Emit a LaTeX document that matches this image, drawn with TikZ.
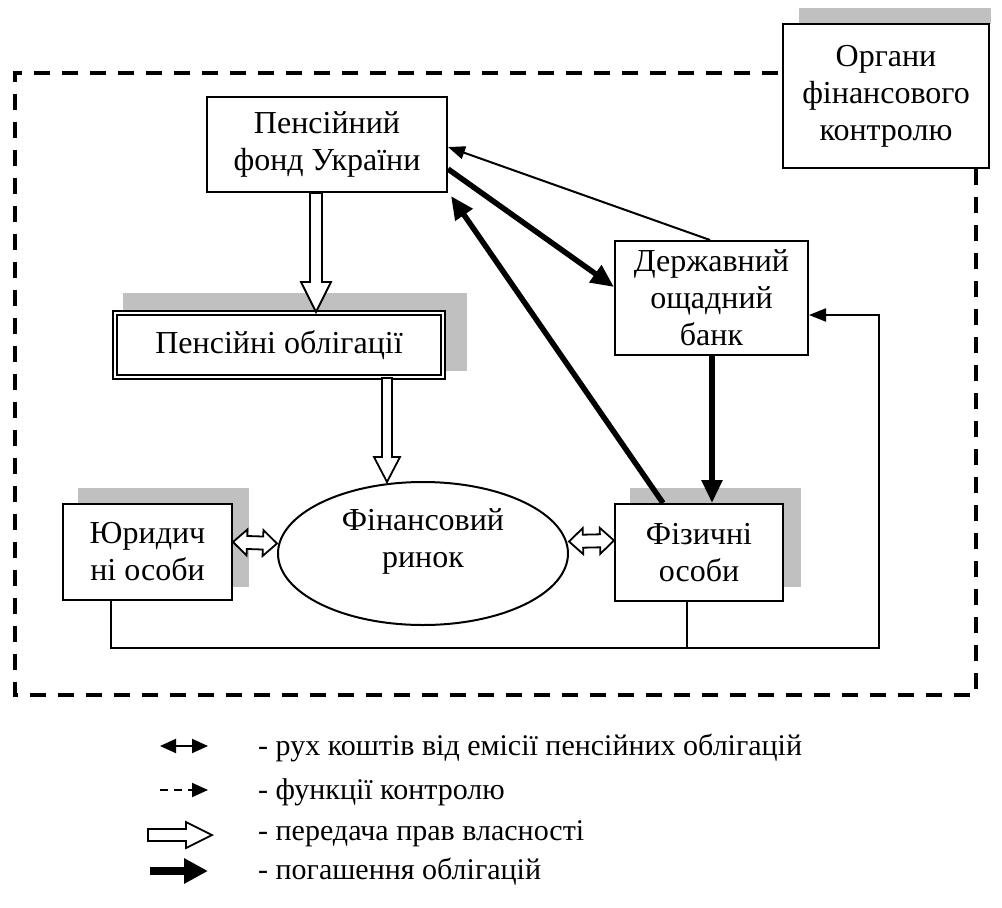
\documentclass[tikz,border=0pt]{standalone}
\usepackage{fontspec}
\setmainfont{Liberation Serif}
\usetikzlibrary{arrows.meta,shapes.geometric,calc,backgrounds}
\definecolor{shadowgray}{RGB}{192,192,192}

% hollow (outline) arrow: start, end, half shaft, head length, half head
\newcommand\hollowarrow[5]{%
  \path #1 coordinate (ha-a) #2 coordinate (ha-b);
  \path ($(ha-b)!#4!(ha-a)$) coordinate (ha-h);
  \draw[hollow] ($(ha-a)!#3!90:(ha-b)$) -- ($(ha-h)!#3!-90:(ha-a)$) -- ($(ha-h)!#5!-90:(ha-a)$)
    -- (ha-b) -- ($(ha-h)!#5!90:(ha-a)$) -- ($(ha-h)!#3!90:(ha-a)$) -- ($(ha-a)!#3!-90:(ha-b)$) -- cycle;
}
% double-headed hollow arrow
\newcommand\hollowboth[5]{%
  \path #1 coordinate (hb-a) #2 coordinate (hb-b);
  \path ($(hb-b)!#4!(hb-a)$) coordinate (hb-h) ($(hb-a)!#4!(hb-b)$) coordinate (hb-g);
  \draw[hollow] (hb-a) -- ($(hb-g)!#5!-90:(hb-b)$) -- ($(hb-g)!#3!-90:(hb-b)$)
    -- ($(hb-h)!#3!90:(hb-a)$) -- ($(hb-h)!#5!90:(hb-a)$) -- (hb-b)
    -- ($(hb-h)!#5!-90:(hb-a)$) -- ($(hb-h)!#3!-90:(hb-a)$)
    -- ($(hb-g)!#3!90:(hb-b)$) -- ($(hb-g)!#5!90:(hb-b)$) -- cycle;
}

\begin{document}
\begin{tikzpicture}[x=1pt,y=-1pt,
  font=\fontsize{32}{37}\selectfont,
  box/.style={draw, line width=2pt, fill=white, align=center, inner sep=0pt},
  hollow/.style={draw, fill=white, line width=1.8pt, line join=miter},
  thinarrow/.style={line width=2pt, -{Triangle[length=17pt,width=13pt]}},
  thickarrow/.style={line width=5.5pt, -{Triangle[length=23pt,width=20pt]}},
  link/.style={line width=2pt},
  frame/.style={line width=4pt, dash pattern=on 16pt off 12pt},
  legtext/.style={anchor=west, inner sep=0pt, font=\fontsize{30}{35}\selectfont}]
\useasboundingbox (0,0) rectangle (1002,908);

% shadows (drawn first)
\fill[shadowgray] (799,8) rectangle (991,24);

% nodes
\node[box, minimum width=206pt, minimum height=144pt] (organ) at (886,96) {Органи\\фінансового\\контролю};
\node[box, minimum width=240pt, minimum height=95pt] (fund) at (327,144.5) {Пенсійний\\фонд України};
\node[box, double, double distance=2pt, minimum width=328pt, minimum height=64pt] (bonds) at (279,345) {Пенсійні облігації};
\node[box, minimum width=169pt, minimum height=96pt] (jur) at (147.5,552) {Юридич\\ні особи};
\node[box, minimum width=168pt, minimum height=97pt] (fiz) at (699,552.5) {Фізичні\\особи};
\node[box, minimum width=193pt, minimum height=114pt] (bank) at (711.5,298) {Державний\\ощадний\\банк};
\node[draw, line width=2pt, ellipse, fill=white, minimum width=290pt, minimum height=143pt, inner sep=0pt] (mkt) at (423,553.5) {};
\node[align=center, inner sep=0pt] (mkttext) at (423,541) {Фінансовий\\ринок};

\begin{scope}[on background layer]
  \fill[shadowgray] (123,293) rectangle (467,371);
  \fill[shadowgray] ($(jur.south west)+(16,-14)$) rectangle ($(jur.north east)+(16,-15)$);
  \fill[shadowgray] ($(fiz.south west)+(16,-15)$) rectangle ($(fiz.north east)+(17,-15)$);
\end{scope}

% dashed control frame
\coordinate (fr-tl) at (15,73);
\coordinate (fr-br) at (976,695);
\draw[frame] (fr-br |- organ.south) -- (fr-br) -- (fr-tl |- fr-br) -- (fr-tl) -- (organ.west |- fr-tl);

% hollow arrows
\coordinate (h1) at ([xshift=-11pt]fund.south);
\hollowarrow{(h1)}{(h1 |- bonds.north)}{6pt}{30pt}{15pt}
\coordinate (h2) at ([xshift=108pt]bonds.south);
\hollowarrow{(h2)}{([yshift=-1pt]h2 |- mkt.north)}{5pt}{25pt}{13pt}
\hollowboth{([yshift=10pt]jur.east)}{([yshift=10pt]mkt.west)}{6.5pt}{14pt}{13pt}
\hollowboth{([yshift=12pt]mkt.east)}{([yshift=12pt]fiz.west)}{6.5pt}{14pt}{13pt}

% money / repayment arrows
\draw[thinarrow] ([xshift=-1.5pt]bank.north) -- ([yshift=-2.5pt]fund.east);
\draw[thickarrow] ([yshift=-24.5pt]fund.east) -- ([yshift=11pt]bank.west);
\draw[thickarrow] ([xshift=-36pt]fiz.north) -- ([shift={(3pt,-3pt)}]fund.south east);
\coordinate (b1) at ([xshift=0.5pt]bank.south);
\draw[thickarrow] (b1) -- (b1 |- fiz.north);

% bottom links
\coordinate (rail) at (879,648);
\coordinate (bankin) at ([yshift=-17pt]bank.east);
\draw[link] ([xshift=-12pt]fiz.south) -- ([xshift=-12pt]fiz.south |- rail);
\draw[thinarrow, line join=miter] ([xshift=-36.5pt]jur.south) |- (rail) |- (bankin);

% legend
\coordinate (l1a) at (160,746); \coordinate (l1b) at (208,746);
\coordinate (l2a) at (160,790); \coordinate (l2b) at (208,790);
\coordinate (l3a) at (148,835); \coordinate (l3b) at (212,835);
\coordinate (l4a) at (150,871); \coordinate (l4b) at (208,871);
\draw[line width=2pt, {Triangle[length=16pt,width=14pt]}-{Triangle[length=16pt,width=14pt]}] (l1a) -- (l1b);
\draw[line width=2pt, dash pattern=on 8pt off 6pt, -{Triangle[length=16pt,width=14pt]}] (l2a) -- (l2b);
\hollowarrow{(l3a)}{(l3b)}{6pt}{26pt}{13pt}
\draw[line width=8pt, -{Triangle[length=24pt,width=24pt]}] (l4a) -- (l4b);
\node[legtext] (t1) at (258,748) {- рух коштів від емісії пенсійних облігацій};
\node[legtext] (t2) at (258,792) {- функції контролю};
\node[legtext] (t3) at (258,834) {- передача прав власності};
\node[legtext] (t4) at (258,872) {- погашення облігацій};
\end{tikzpicture}
\end{document}
